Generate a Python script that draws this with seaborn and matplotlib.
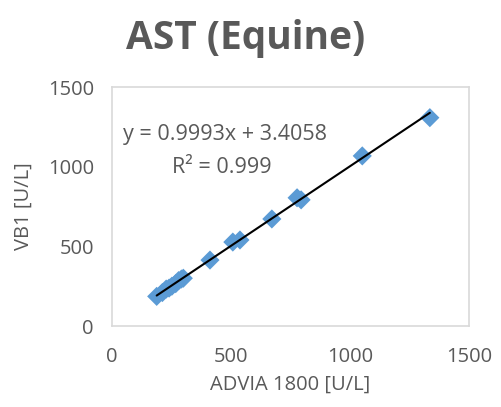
import matplotlib
matplotlib.use("Agg")
import matplotlib.pyplot as plt
import seaborn as sns
import numpy as np
import pandas as pd

# AST measurements, equine samples
advia = [188, 212, 228, 240, 252, 268, 280, 292, 300, 412, 508, 538, 672, 778, 795, 1052, 1336]
vb1 = [186, 210, 232, 238, 250, 266, 285, 295, 300, 414, 527, 540, 672, 805, 792, 1068, 1308]

# linear trendline coefficients
slope = 0.9993
intercept = 3.4058
r_squared = 0.999

x_ticks = [0, 500, 1000, 1500]
y_ticks = [0, 500, 1000, 1500]

sns.set_theme(style="white")
plt.rcParams["font.family"] = ["Open Sans", "DejaVu Sans"]

grey = "#595959"
blue = "#5B9BD5"

fig = plt.figure(figsize=(5.02, 4.07), dpi=100)
ax = fig.add_axes([0.223, 0.199, 0.711, 0.587])

df = pd.DataFrame({"ADVIA 1800 [U/L]": advia, "VB1 [U/L]": vb1})
sns.scatterplot(data=df, x="ADVIA 1800 [U/L]", y="VB1 [U/L]", marker="D",
                s=95, color=blue, edgecolor="none", ax=ax, zorder=2)

xs = np.array([min(advia), max(advia)])
ax.plot(xs, slope * xs + intercept, color="black", lw=1.5, zorder=3)

ax.set_xlim(0, 1500)
ax.set_ylim(0, 1500)
ax.set_xticks(x_ticks)
ax.set_yticks(y_ticks)
ax.tick_params(axis="both", length=0, labelsize=14.5, colors=grey)
ax.tick_params(axis="x", pad=15)
ax.tick_params(axis="y", pad=13)

for sp in ax.spines.values():
    sp.set_color("#D9D9D9")
    sp.set_linewidth(1.2)

ax.set_xlabel("ADVIA 1800 [U/L]", fontsize=14.5, color=grey, labelpad=6)
ax.set_ylabel("VB1 [U/L]", fontsize=14.5, color=grey, labelpad=10)

ax.text(0.316, 0.800, f"y = {slope}x + {intercept}", transform=ax.transAxes,
        ha="center", va="center", fontsize=15.5, color=grey)
ax.text(0.308, 0.662, f"R² = {r_squared}", transform=ax.transAxes,
        ha="center", va="center", fontsize=15.5, color=grey)

fig.text(0.49, 0.905, "AST (Equine)", ha="center", va="center",
         fontsize=28, fontweight="bold", color=grey)

fig.savefig("out.png", dpi=100)
